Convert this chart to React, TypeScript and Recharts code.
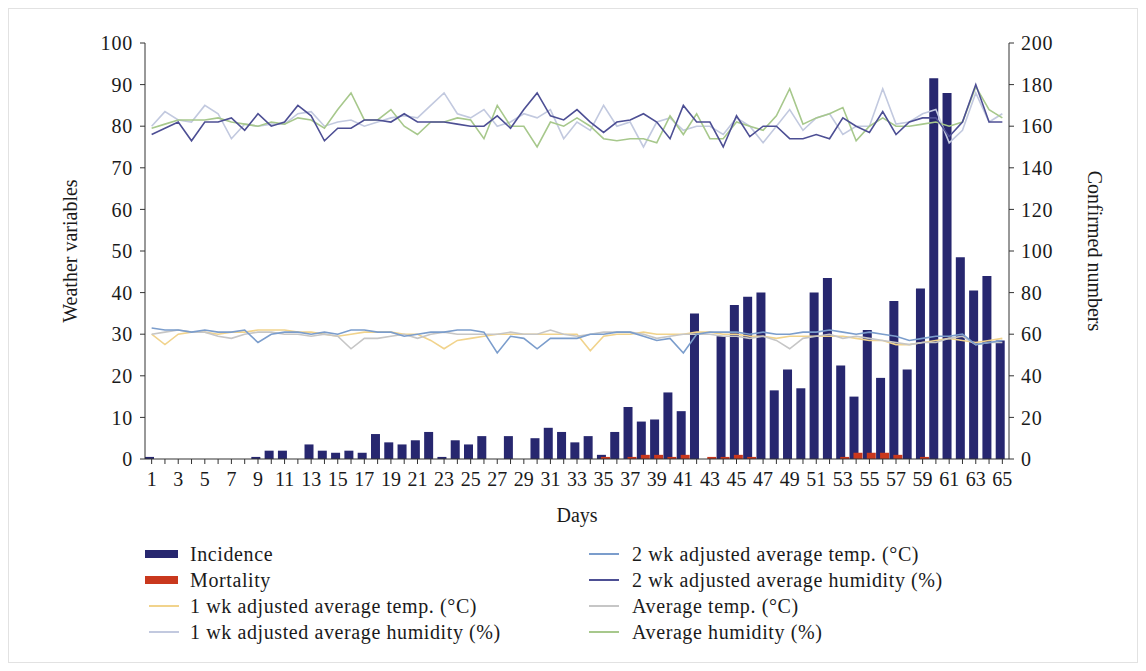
import React from 'react';
import { ComposedChart, Bar, Line, XAxis, YAxis, Legend } from 'recharts';

const days = ['1','2','3','4','5','6','7','8','9','10','11','12','13','14','15','16','17','18','19','20','21','22','23','24','25','26','27','28','29','30','31','32','33','34','35','36','37','38','39','40','41','42','43','44','45','46','47','48','49','50','51','52','53','54','55','56','57','58','59','60','61','62','63','64','65'];

const incidence = [1,0,0,0,0,0,0,0,1,4,4,0,7,4,3,4,3,12,8,7,9,13,1,9,7,11,0,11,0,10,15,13,8,11,2,13,25,18,19,32,23,70,0,59,74,78,80,33,43,34,80,87,45,30,62,39,76,43,82,183,176,97,81,88,57];

const mortality = [0,0,0,0,0,0,0,0,0,0,0,0,0,0,0,0,0,0,0,0,0,0,0,0,0,0,0,0,0,0,0,0,0,0,1,0,1,2,2,1,2,0,1,1,2,1,0,0,0,0,0,0,1,3,3,3,2,0,1,0,0,0,0,0,0];

const temp1wk = [30,27.5,30,30.5,30.5,30,30.5,30.5,31,31,31,30.5,30.5,30,29.5,30,30.5,30.5,30.5,30,30,28.5,26.5,28.5,29,29.5,30,30,30,30,30,30,30,26,29.5,30,30,30.5,30,30,30,30.5,30.5,30,30,29.5,29.5,29,29.5,29.5,29.5,29.5,29.5,29,28.5,28.5,27.5,27.5,28,28.5,29,28.5,28,28.5,29];

const humidity1wk = [80,83.5,81.5,81,85,83,77,80.5,80,80.5,80.5,83,83.5,80,81,81.5,80,81,82,82.5,82,85,88,83,82,84,80,81,83,82,84,77,81,79,85,80,81,75,81,82,79,80,80,78,82,80,76,80,84,79,82,83,78,80,80,89,80.5,81,83,84,76,79,88,81,83];

const temp2wk = [31.5,31,31,30.5,31,30.5,30.5,31,28,30,30.5,30.5,30,30.5,30,31,31,30.5,30.5,29.5,30,30.5,30.5,31,31,30.5,25.5,29.5,29,26.5,29,29,29,30,30,30.5,30.5,29.5,28.5,29,25.5,30,30.5,30.5,30.5,30,30.5,30,30,30.5,30.5,31,30.5,30,30.5,30,29.5,28.5,29,29.5,29.5,30,27.5,28,28.5];

const humidity2wk = [78,79.5,81,76.5,81,81,82,79,83,80,81,85,82.5,76.5,79.5,79.5,81.5,81.5,81,83,81,81,81,80.5,80,80,82.5,79.5,84,88,82.5,81.5,84,81,78.5,81,81.5,83,81,77,85,81,81,75,82.5,77.5,80,80,77,77,78,77,82,80,78.5,83.5,78,81,82,82,77.5,81,90,81,81];

const tempAvg = [30,30.5,31,30.5,30.5,29.5,29,30,30.5,30.5,30,30,29.5,30,29.5,26.5,29,29,29.5,30,29,30,30.5,30,30,30,30,30.5,30,30,31,30,29.5,30,30.5,30.5,30.5,30,29,29.5,30,30,30,29.5,29.5,29,29.5,28.5,26.5,29,29.5,30,29,29.5,29,28.5,28,27.5,28,28,29,29.5,27.5,28,28];

const humidityAvg = [79.5,80.5,81.5,81.5,81.5,82,81,80.5,80,81,80.5,82,81.5,79.5,84,88,81.5,81.5,84,80,78,81,81,82,81.5,77,85,80,80,75,81,80,82,80,77,76.5,77,77,76,82.5,78,83,77,77,81,80,79,82.5,89,80.5,82,83,84.5,76.5,80,82,80,80,80.5,81,80,81,89.5,84,82];

const leftTicks = [0,10,20,30,40,50,60,70,80,90,100];
const rightTicks = [0,20,40,60,80,100,120,140,160,180,200];

const data = days.map((d, i) => ({
  day: d,
  incidence: incidence[i],
  mortality: mortality[i],
  temp1wk: temp1wk[i],
  humidity1wk: humidity1wk[i],
  temp2wk: temp2wk[i],
  humidity2wk: humidity2wk[i],
  tempAvg: tempAvg[i],
  humidityAvg: humidityAvg[i],
}));

const FONT = '"Liberation Serif", "Times New Roman", serif';
const TXT = '#1a1a1a';

const C = {
  incidence: '#27276f',
  mortality: '#c9381d',
  temp1wk: '#f1d38c',
  humidity1wk: '#c2c9df',
  temp2wk: '#7b9dcc',
  humidity2wk: '#4d4f94',
  tempAvg: '#c6c6c6',
  humidityAvg: '#a7c88c',
};

const legendLeft = [
  { name: 'Incidence', color: C.incidence, kind: 'bar' },
  { name: 'Mortality', color: C.mortality, kind: 'bar' },
  { name: '1 wk adjusted average temp. (°C)', color: C.temp1wk, kind: 'line' },
  { name: '1 wk adjusted average humidity (%)', color: C.humidity1wk, kind: 'line' },
];
const legendRight = [
  { name: '2 wk adjusted average temp. (°C)', color: C.temp2wk, kind: 'line' },
  { name: '2 wk adjusted average humidity (%)', color: C.humidity2wk, kind: 'line' },
  { name: 'Average temp. (°C)', color: C.tempAvg, kind: 'line' },
  { name: 'Average humidity (%)', color: C.humidityAvg, kind: 'line' },
];

const LegendItem = ({ item, textLeft }: { item: any; textLeft: number }) => (
  <div style={{ position: 'relative', height: 26, display: 'flex', alignItems: 'center' }}>
    <svg width={textLeft} height={26} style={{ flex: 'none' }}>
      {item.kind === 'bar' ? (
        <rect x={0} y={9} width={33} height={8} fill={item.color} />
      ) : (
        <line x1={4} y1={13} x2={34} y2={13} stroke={item.color} strokeWidth={2} />
      )}
    </svg>
    <span style={{ fontFamily: FONT, fontSize: 20, letterSpacing: 0.6, color: TXT, whiteSpace: 'nowrap' }}>{item.name}</span>
  </div>
);

const renderLegend = () => (
  <div style={{ position: 'relative', width: 900, height: 110 }}>
    <div style={{ position: 'absolute', left: 0, top: 0 }}>
      {legendLeft.map((it) => <LegendItem key={it.name} item={it} textLeft={45} />)}
    </div>
    <div style={{ position: 'absolute', left: 440, top: 0 }}>
      {legendRight.map((it) => <LegendItem key={it.name} item={it} textLeft={47} />)}
    </div>
  </div>
);

const XTick = (props: any) => {
  const { x, y, payload, index } = props;
  if (index % 2 !== 0) return <g />;
  return (
    <text x={x} y={y} dy="0.75em" textAnchor="middle" fontFamily={FONT} fontSize={20} fill={TXT}>
      {payload.value}
    </text>
  );
};

const LeftTitle = (props: any) => {
  const vb = props.viewBox;
  const x = vb.x + 44;
  const y = vb.y + vb.height / 2;
  return (
    <text x={x} y={y} transform={`rotate(-90 ${x} ${y})`} textAnchor="middle" dominantBaseline="middle" fontFamily={FONT} fontSize={20} fill={TXT}>
      Weather variables
    </text>
  );
};

const RightTitle = (props: any) => {
  const vb = props.viewBox;
  const x = vb.x + 84;
  const y = vb.y + vb.height / 2;
  return (
    <text x={x} y={y} transform={`rotate(90 ${x} ${y})`} textAnchor="middle" dominantBaseline="middle" fontFamily={FONT} fontSize={20} fill={TXT}>
      Confirmed numbers
    </text>
  );
};

const XTitle = (props: any) => {
  const vb = props.viewBox;
  const x = vb.x + vb.width / 2;
  const y = vb.y + 58;
  return (
    <text x={x} y={y} textAnchor="middle" dominantBaseline="middle" fontFamily={FONT} fontSize={20} fill={TXT}>
      Days
    </text>
  );
};

const tickStyle = { fontFamily: FONT, fontSize: 20, fill: TXT, letterSpacing: 0.8 };

export default function App() {
  return (
    <div style={{ width: 1130, height: 655, border: '1px solid #e2e2e2', boxSizing: 'border-box', background: '#fff' }}>
      <ComposedChart
        width={1128}
        height={653}
        data={data}
        margin={{ top: 34, right: 28, left: 19, bottom: 173 }}
        barGap={-5}
      >
        <XAxis
          dataKey="day"
          interval={0}
          tick={<XTick />}
          tickSize={5}
          tickMargin={7}
          height={30}
          stroke="#333"
          axisLine={{ stroke: '#333' }}
          tickLine={{ stroke: '#333' }}
          label={{ content: <XTitle /> }}
        />
        <YAxis
          yAxisId="left"
          orientation="left"
          domain={[0, 100]}
          ticks={leftTicks}
          interval={0}
          width={117}
          tickSize={5}
          tickMargin={7}
          tick={tickStyle}
          stroke="#333"
          label={{ content: <LeftTitle /> }}
        />
        <YAxis
          yAxisId="right"
          orientation="right"
          domain={[0, 200]}
          ticks={rightTicks}
          interval={0}
          width={100}
          tickSize={5}
          tickMargin={7}
          tick={tickStyle}
          stroke="#333"
          label={{ content: <RightTitle /> }}
        />
        <Legend
          layout="horizontal"
          verticalAlign="middle"
          align="center"
          content={renderLegend}
          wrapperStyle={{ top: 532, left: 136, width: 900, height: 110 }}
        />
        <Line yAxisId="left" type="linear" dataKey="temp1wk" name="1 wk adjusted average temp. (°C)" stroke={C.temp1wk} strokeWidth={1.6} dot={false} isAnimationActive={false} />
        <Line yAxisId="left" type="linear" dataKey="tempAvg" name="Average temp. (°C)" stroke={C.tempAvg} strokeWidth={1.6} dot={false} isAnimationActive={false} />
        <Line yAxisId="left" type="linear" dataKey="temp2wk" name="2 wk adjusted average temp. (°C)" stroke={C.temp2wk} strokeWidth={1.6} dot={false} isAnimationActive={false} />
        <Line yAxisId="left" type="linear" dataKey="humidity1wk" name="1 wk adjusted average humidity (%)" stroke={C.humidity1wk} strokeWidth={1.6} dot={false} isAnimationActive={false} />
        <Line yAxisId="left" type="linear" dataKey="humidityAvg" name="Average humidity (%)" stroke={C.humidityAvg} strokeWidth={1.6} dot={false} isAnimationActive={false} />
        <Line yAxisId="left" type="linear" dataKey="humidity2wk" name="2 wk adjusted average humidity (%)" stroke={C.humidity2wk} strokeWidth={1.6} dot={false} isAnimationActive={false} />
        <Bar yAxisId="right" dataKey="incidence" name="Incidence" fill={C.incidence} barSize={9} isAnimationActive={false} />
        <Bar yAxisId="right" dataKey="mortality" name="Mortality" fill={C.mortality} barSize={9} isAnimationActive={false} />
      </ComposedChart>
    </div>
  );
}
